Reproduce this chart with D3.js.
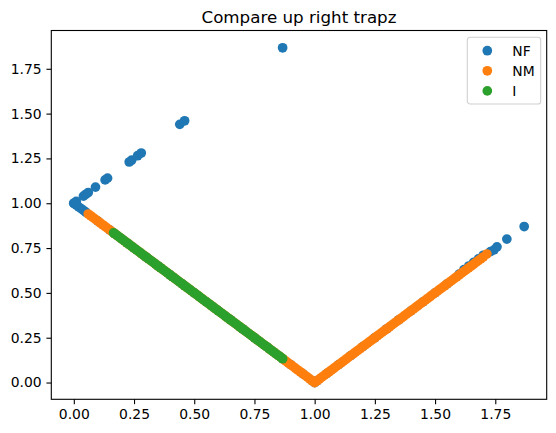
<!DOCTYPE html>
<meta charset="utf-8">
<body style="margin:0;background:#fff">
<div id="box"></div>
<script src="https://d3js.org/d3.v7.min.js"></script>
<script>
  // series values, [x, y]
  var nfPoints = [
    [0.00, 1.00], [0.01, 1.01], [0.04, 1.04], [0.05, 1.05], [0.06, 1.06], [0.09, 1.09],
    [0.13, 1.13], [0.14, 1.14], [0.23, 1.23], [0.24, 1.24], [0.265, 1.265], [0.28, 1.28],
    [0.44, 1.44], [0.46, 1.46], [0.867, 1.867],
    [0.00, 1.00], [0.01, 0.99], [0.02, 0.98], [0.03, 0.97], [0.04, 0.96], [0.05, 0.95],
    [0.10, 0.90], [0.15, 0.85], [0.20, 0.80], [0.25, 0.75], [0.30, 0.70], [0.35, 0.65],
    [0.40, 0.60], [0.45, 0.55], [0.50, 0.50], [0.55, 0.45], [0.60, 0.40], [0.65, 0.35],
    [0.70, 0.30], [0.75, 0.25], [0.80, 0.20], [0.85, 0.15], [0.90, 0.10], [0.95, 0.05],
    [0.99, 0.01], [1.00, 0.00], [1.01, 0.01], [1.05, 0.05], [1.10, 0.10], [1.15, 0.15],
    [1.20, 0.20], [1.25, 0.25], [1.30, 0.30], [1.35, 0.35], [1.40, 0.40], [1.45, 0.45],
    [1.50, 0.50], [1.55, 0.55], [1.60, 0.605], [1.62, 0.63], [1.64, 0.65], [1.66, 0.67],
    [1.68, 0.69], [1.70, 0.71], [1.73, 0.73], [1.745, 0.74], [1.757, 0.757], [1.798, 0.80],
    [1.87, 0.87]
  ];

  var nmPoints = [
    [0.06, 0.94], [0.07, 0.93], [0.08, 0.92], [0.09, 0.91], [0.10, 0.90], [0.11, 0.89],
    [0.12, 0.88], [0.13, 0.87], [0.14, 0.86], [0.15, 0.85], [0.16, 0.84], [0.17, 0.83],
    [0.18, 0.82], [0.19, 0.81], [0.20, 0.80], [0.21, 0.79], [0.22, 0.78], [0.23, 0.77],
    [0.24, 0.76], [0.25, 0.75], [0.26, 0.74], [0.27, 0.73], [0.28, 0.72], [0.29, 0.71],
    [0.30, 0.70], [0.31, 0.69], [0.32, 0.68], [0.33, 0.67], [0.34, 0.66], [0.35, 0.65],
    [0.36, 0.64], [0.37, 0.63], [0.38, 0.62], [0.39, 0.61], [0.40, 0.60], [0.41, 0.59],
    [0.42, 0.58], [0.43, 0.57], [0.44, 0.56], [0.45, 0.55], [0.46, 0.54], [0.47, 0.53],
    [0.48, 0.52], [0.49, 0.51], [0.50, 0.50], [0.51, 0.49], [0.52, 0.48], [0.53, 0.47],
    [0.54, 0.46], [0.55, 0.45], [0.56, 0.44], [0.57, 0.43], [0.58, 0.42], [0.59, 0.41],
    [0.60, 0.40], [0.61, 0.39], [0.62, 0.38], [0.63, 0.37], [0.64, 0.36], [0.65, 0.35],
    [0.66, 0.34], [0.67, 0.33], [0.68, 0.32], [0.69, 0.31], [0.70, 0.30], [0.71, 0.29],
    [0.72, 0.28], [0.73, 0.27], [0.74, 0.26], [0.75, 0.25], [0.76, 0.24], [0.77, 0.23],
    [0.78, 0.22], [0.79, 0.21], [0.80, 0.20], [0.81, 0.19], [0.82, 0.18], [0.83, 0.17],
    [0.84, 0.16], [0.85, 0.15], [0.86, 0.14], [0.87, 0.13], [0.88, 0.12], [0.89, 0.11],
    [0.90, 0.10], [0.91, 0.09], [0.92, 0.08], [0.93, 0.07], [0.94, 0.06], [0.95, 0.05],
    [0.96, 0.04], [0.97, 0.03], [0.98, 0.02], [0.99, 0.01], [1.00, 0.00], [1.01, 0.01],
    [1.02, 0.02], [1.03, 0.03], [1.04, 0.04], [1.05, 0.05], [1.06, 0.06], [1.07, 0.07],
    [1.08, 0.08], [1.09, 0.09], [1.10, 0.10], [1.11, 0.11], [1.12, 0.12], [1.13, 0.13],
    [1.14, 0.14], [1.15, 0.15], [1.16, 0.16], [1.17, 0.17], [1.18, 0.18], [1.19, 0.19],
    [1.20, 0.20], [1.21, 0.21], [1.22, 0.22], [1.23, 0.23], [1.24, 0.24], [1.25, 0.25],
    [1.26, 0.26], [1.27, 0.27], [1.28, 0.28], [1.29, 0.29], [1.30, 0.30], [1.31, 0.31],
    [1.32, 0.32], [1.33, 0.33], [1.34, 0.34], [1.35, 0.35], [1.36, 0.36], [1.37, 0.37],
    [1.38, 0.38], [1.39, 0.39], [1.40, 0.40], [1.41, 0.41], [1.42, 0.42], [1.43, 0.43],
    [1.44, 0.44], [1.45, 0.45], [1.46, 0.46], [1.47, 0.47], [1.48, 0.48], [1.49, 0.49],
    [1.50, 0.50], [1.51, 0.51], [1.52, 0.52], [1.53, 0.53], [1.54, 0.54], [1.55, 0.55],
    [1.56, 0.56], [1.57, 0.57], [1.58, 0.58], [1.59, 0.59], [1.60, 0.60], [1.61, 0.61],
    [1.62, 0.62], [1.63, 0.63], [1.64, 0.64], [1.65, 0.65], [1.66, 0.66], [1.67, 0.67],
    [1.68, 0.68], [1.69, 0.69], [1.70, 0.70], [1.715, 0.717]
  ];

  var iPoints = [
    [0.165, 0.835], [0.17, 0.83], [0.18, 0.82], [0.19, 0.81], [0.20, 0.80], [0.21, 0.79],
    [0.22, 0.78], [0.23, 0.77], [0.24, 0.76], [0.25, 0.75], [0.26, 0.74], [0.27, 0.73],
    [0.28, 0.72], [0.29, 0.71], [0.30, 0.70], [0.31, 0.69], [0.32, 0.68], [0.33, 0.67],
    [0.34, 0.66], [0.35, 0.65], [0.36, 0.64], [0.37, 0.63], [0.38, 0.62], [0.39, 0.61],
    [0.40, 0.60], [0.41, 0.59], [0.42, 0.58], [0.43, 0.57], [0.44, 0.56], [0.45, 0.55],
    [0.46, 0.54], [0.47, 0.53], [0.48, 0.52], [0.49, 0.51], [0.50, 0.50], [0.51, 0.49],
    [0.52, 0.48], [0.53, 0.47], [0.54, 0.46], [0.55, 0.45], [0.56, 0.44], [0.57, 0.43],
    [0.58, 0.42], [0.59, 0.41], [0.60, 0.40], [0.61, 0.39], [0.62, 0.38], [0.63, 0.37],
    [0.64, 0.36], [0.65, 0.35], [0.66, 0.34], [0.67, 0.33], [0.68, 0.32], [0.69, 0.31],
    [0.70, 0.30], [0.71, 0.29], [0.72, 0.28], [0.73, 0.27], [0.74, 0.26], [0.75, 0.25],
    [0.76, 0.24], [0.77, 0.23], [0.78, 0.22], [0.79, 0.21], [0.80, 0.20], [0.81, 0.19],
    [0.82, 0.18], [0.83, 0.17], [0.84, 0.16], [0.85, 0.15], [0.86, 0.14], [0.867, 0.133]
  ];

  var seriesNames = ["NF", "NM", "I"];
  var seriesColors = ["#1f77b4", "#ff7f0e", "#2ca02c"];
  var tickValues = [0, 0.25, 0.5, 0.75, 1.0, 1.25, 1.5, 1.75];
  var chartTitle = "Compare up right trapz";

  var W = 556, H = 433;
  var margin = { top: 30.5, right: 9.3, bottom: 33.7, left: 51.3 },
    width = W - margin.left - margin.right,
    height = H - margin.top - margin.bottom;
  var dotR = 4.86; // 6pt marker + 1pt edge at 100 dpi

  var xScale = d3.scaleLinear().domain([-0.0935, 1.9635]).range([0, width]);
  var yScale = d3.scaleLinear().domain([-0.0935, 1.9635]).range([height, 0]);

  var svg = d3.select("#box").append("svg")
    .attr("width", W).attr("height", H)
    .style("font-family", "'DejaVu Sans', sans-serif");

  var g = svg.append("g")
    .attr("transform", "translate(" + margin.left + "," + margin.top + ")");

  // points, in matplotlib draw order
  [nfPoints, nmPoints, iPoints].forEach(function(pts, i) {
    g.append("g").selectAll("circle")
      .data(pts)
      .enter().append("circle")
      .attr("cx", function(d) { return xScale(d[0]); })
      .attr("cy", function(d) { return yScale(d[1]); })
      .attr("r", dotR)
      .attr("fill", seriesColors[i]);
  });

  // axes
  var fmt = d3.format(".2f");
  var xAxis = g.append("g")
    .attr("transform", "translate(0," + height + ")")
    .call(d3.axisBottom(xScale).tickValues(tickValues).tickFormat(fmt)
      .tickSize(4.86).tickPadding(4.86).tickSizeOuter(0));
  var yAxis = g.append("g")
    .call(d3.axisLeft(yScale).tickValues(tickValues).tickFormat(fmt)
      .tickSize(4.86).tickPadding(4.86).tickSizeOuter(0));
  [xAxis, yAxis].forEach(function(a) {
    a.select(".domain").remove();
    a.selectAll("line").attr("stroke", "#000").attr("stroke-width", 1.1);
    a.selectAll("text").attr("fill", "#000")
      .style("font-family", "'DejaVu Sans', sans-serif")
      .style("font-size", "13.9px");
  });

  // frame
  g.append("rect")
    .attr("width", width).attr("height", height)
    .attr("fill", "none").attr("stroke", "#000").attr("stroke-width", 1.1);

  // title
  svg.append("text")
    .attr("x", margin.left + width / 2)
    .attr("y", 22.5)
    .attr("text-anchor", "middle")
    .style("font-size", "16.7px")
    .text(chartTitle);

  // legend
  var leg = svg.append("g").attr("transform", "translate(467.3,37.3)");
  leg.append("rect")
    .attr("width", 73.4).attr("height", 66.7)
    .attr("rx", 2.8)
    .attr("fill", "#fff").attr("fill-opacity", 0.8)
    .attr("stroke", "#d0d0d0").attr("stroke-width", 1.1);
  seriesNames.forEach(function(name, i) {
    var yy = 13.4 + i * 20.1;
    leg.append("circle")
      .attr("cx", 20).attr("cy", yy).attr("r", dotR)
      .attr("fill", seriesColors[i]);
    leg.append("text")
      .attr("x", 45).attr("y", yy)
      .attr("dy", "0.36em")
      .style("font-size", "13.9px")
      .text(name);
  });
</script>
</body>
